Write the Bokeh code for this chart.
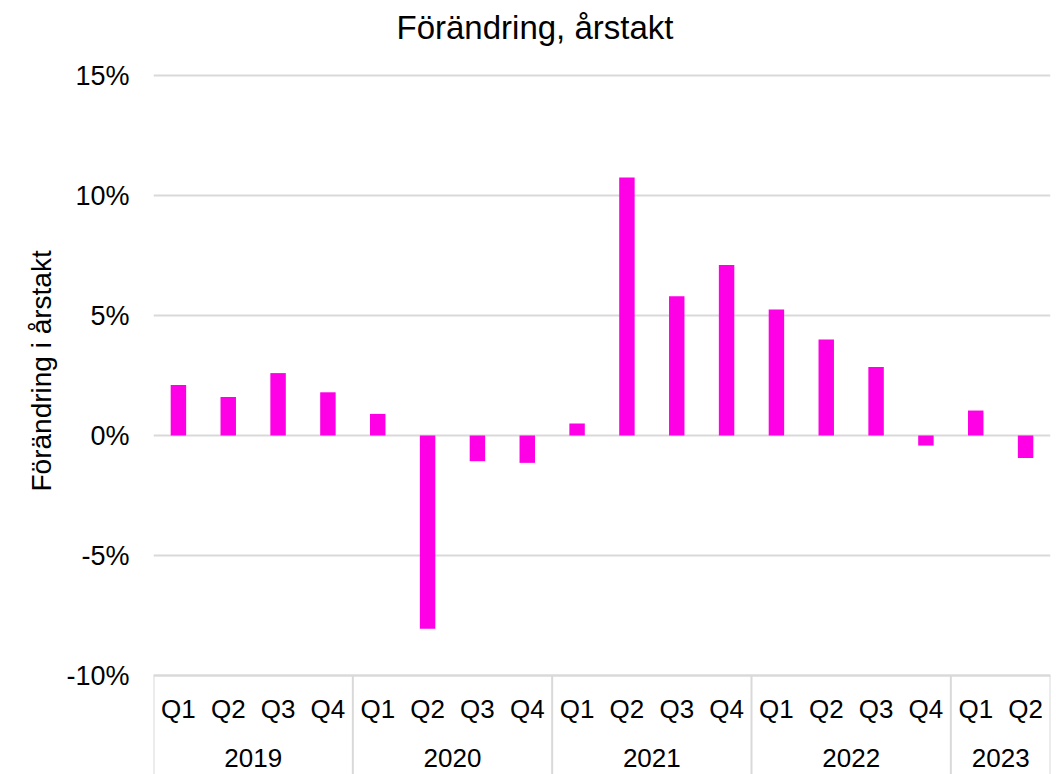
from bokeh.plotting import figure
from bokeh.models import FactorRange, Range1d, NumeralTickFormatter, FixedTicker, ColumnDataSource, Span, Title
from bokeh.core.properties import value
from bokeh.embed import file_html
from bokeh.resources import INLINE

title_text = "Förändring, årstakt"
y_label = "Förändring i årstakt"
years = ["2019"] * 4 + ["2020"] * 4 + ["2021"] * 4 + ["2022"] * 4 + ["2023"] * 2
quarters = ["Q1", "Q2", "Q3", "Q4"] * 4 + ["Q1", "Q2"]
values = [0.021, 0.016, 0.026, 0.018, 0.009, -0.0805, -0.0107, -0.0114, 0.005,
          0.1075, 0.058, 0.071, 0.0525, 0.040, 0.0285, -0.0042, 0.0104, -0.0094]
y_ticks = [-0.10, -0.05, 0.0, 0.05, 0.10, 0.15]

factors = list(zip(years, quarters))
year_groups = list(dict.fromkeys(years))

FONT = "Liberation Sans"
GRID = "#d9d9d9"

# Layout: the plot frame covers x 153..1050 and the whole height (0..774).
# The value axis -10%..15% spans 600 px (y 75..675); the title band (75 px) sits
# above it and the category label band (99 px) below it.
TOP_PX, AXIS_PX, BAND_PX = 75, 600, 99
per_px = (y_ticks[-1] - y_ticks[0]) / AXIS_PX
y_start = y_ticks[0] - BAND_PX * per_px
y_end = y_ticks[-1] + TOP_PX * per_px
q_y = y_ticks[0] - 33 * per_px
yr_y = y_ticks[0] - 82.5 * per_px
title_y = y_end - 27 * per_px

p = figure(
    width=1056, height=774,
    x_range=FactorRange(*factors, group_padding=0, factor_padding=0, range_padding=0),
    y_range=Range1d(y_start, y_end),
    output_backend="svg", toolbar_location=None,
    min_border_left=153, min_border_right=6, min_border_top=0, min_border_bottom=0,
)

src = ColumnDataSource(data=dict(x=factors, top=values))
p.vbar(x="x", top="top", bottom=0, width=0.31, source=src, fill_color="#ff00e6", line_color=None)

# category axis drawn in the band below the value axis
p.add_layout(Span(location=y_ticks[0], dimension="width", line_color=GRID, line_width=2))
bounds = [0]
for i in range(1, len(years)):
    if years[i] != years[i - 1]:
        bounds.append(i)
bounds.append(len(years))
p.segment(x0=bounds, x1=bounds, y0=[y_ticks[0]] * len(bounds), y1=[y_start] * len(bounds),
          line_color=GRID, line_width=2)
p.text(x=factors, y=[q_y] * len(factors), text=quarters, text_align="center",
       text_baseline="middle", text_font=value(FONT), text_font_size="26px", text_color="#000000")
p.text(x=year_groups, y=[yr_y] * len(year_groups), text=year_groups, text_align="center",
       text_baseline="middle", text_font=value(FONT), text_font_size="26px", text_color="#000000")

# chart title, in the band above the value axis
p.text(x=[0], y=[title_y], text=[title_text], x_offset=243, text_align="left",
       text_baseline="middle", text_font=value(FONT), text_font_size="33px", text_color="#000000")

p.outline_line_color = None
p.xgrid.grid_line_color = None
p.ygrid.grid_line_color = GRID
p.ygrid.grid_line_width = 2
p.xaxis.visible = False

p.yaxis.ticker = FixedTicker(ticks=y_ticks)
p.yaxis.formatter = NumeralTickFormatter(format="0%")
p.yaxis.axis_line_color = None
p.yaxis.major_tick_line_color = None
p.yaxis.minor_tick_line_color = None
p.yaxis.major_label_standoff = 18
p.yaxis.major_label_text_font = FONT
p.yaxis.major_label_text_font_size = "27px"
p.yaxis.major_label_text_color = "#000000"

# value-axis title, placed along the left side
p.add_layout(Title(text=y_label, align="left", offset=283, standoff=14,
                   text_font=FONT, text_font_size="28px", text_font_style="normal",
                   text_color="#000000"), "left")

open("out.html", "w").write(file_html(p, INLINE))
